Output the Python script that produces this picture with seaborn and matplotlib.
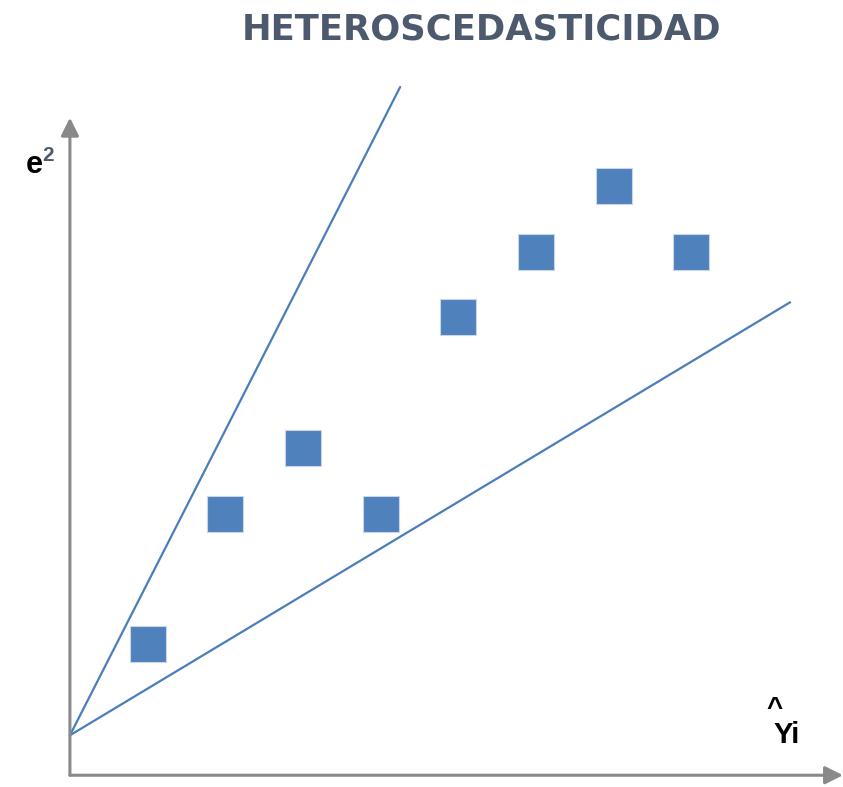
import matplotlib
matplotlib.use("Agg")
import matplotlib.pyplot as plt
import seaborn as sns
import pandas as pd

# residuos al cuadrado vs valores ajustados
y_hat = [1, 2, 3, 4, 5, 6, 7, 8]
e_sq = [2, 4, 5, 4, 7, 8, 9, 8]

# las dos rectas que forman el "embudo"
upper_x = [0, 4.25]
upper_y = [0.61, 10.52]
lower_x = [0, 9.27]
lower_y = [0.61, 7.23]

BLUE = "#4a7ebb"
GRAY = "#898989"
SLATE = "#4d5a6e"

sns.set_theme(style="white")
plt.rcParams["font.family"] = ["Liberation Sans", "DejaVu Sans"]

fig = plt.figure(figsize=(8.43, 7.87), dpi=100)
ax = fig.add_axes([0, 0, 1, 1])
ax.set_xlim(-0.90, 9.95)
ax.set_ylim(-0.18, 11.85)
ax.axis("off")

df = pd.DataFrame({"y_hat": y_hat, "e_sq": e_sq})
sns.lineplot(x=upper_x, y=upper_y, color=BLUE, linewidth=1.6, ax=ax)
sns.lineplot(x=lower_x, y=lower_y, color=BLUE, linewidth=1.6, ax=ax)
sns.scatterplot(data=df, x="y_hat", y="e_sq", marker="s", s=640,
                color="#4f81bd", edgecolor="#c9d6e8", linewidth=0.8,
                ax=ax, zorder=3)

# ejes con flecha
ax.annotate("", xy=(0, 10.05), xytext=(0, 0), xycoords="data",
            arrowprops=dict(arrowstyle="-|>,head_width=0.45,head_length=0.9",
                            color=GRAY, lw=2.2, shrinkA=0, shrinkB=0))
ax.annotate("", xy=(9.95, 0), xytext=(0, 0), xycoords="data",
            arrowprops=dict(arrowstyle="-|>,head_width=0.45,head_length=0.9",
                            color=GRAY, lw=2.2, shrinkA=0, shrinkB=0))

fig.text(0.571, 0.962, "HETEROSCEDASTICIDAD", ha="center", va="center",
         fontsize=25.5, fontweight="bold", color=SLATE, family="DejaVu Sans")

fig.text(0.030, 0.790, "e", ha="left", va="center", fontsize=22,
         fontweight="bold", color="black")
fig.text(0.050, 0.803, "2", ha="left", va="center", fontsize=15,
         fontweight="bold", color=SLATE)

fig.text(0.919, 0.099, "^", ha="center", va="center", fontsize=20,
         fontweight="bold", color="black")
fig.text(0.933, 0.066, "Yi", ha="center", va="center", fontsize=21,
         fontweight="bold", color="black")

fig.savefig("out.png", dpi=100)
